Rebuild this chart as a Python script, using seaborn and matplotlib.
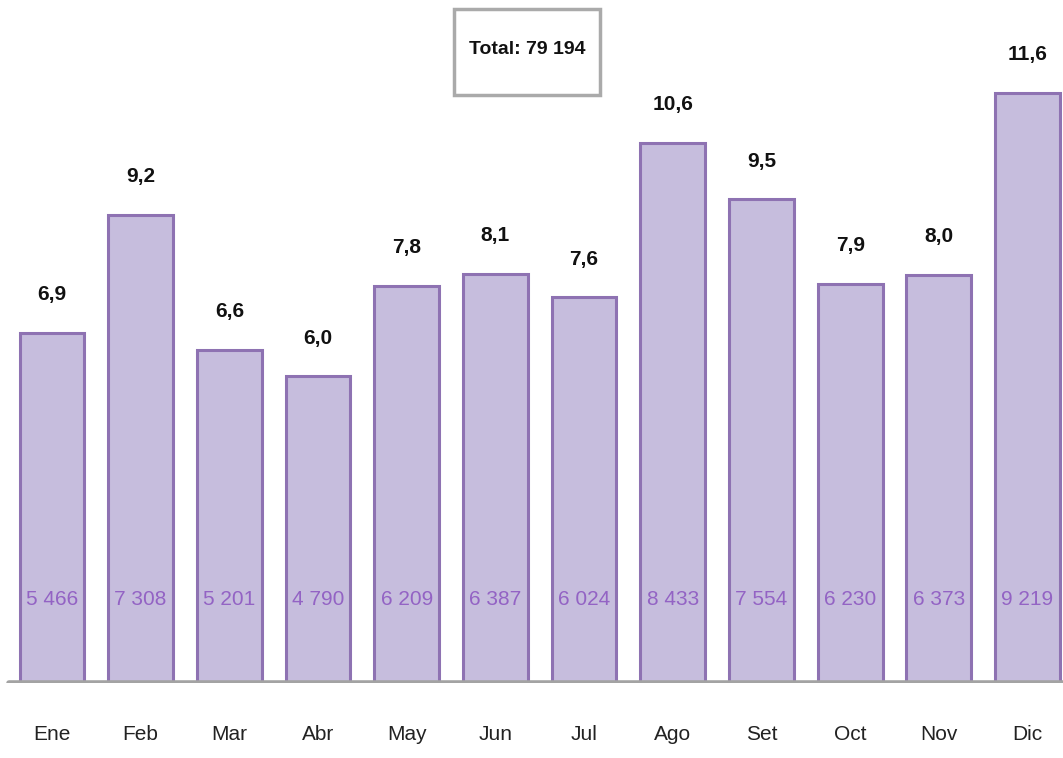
import pandas as pd
import numpy as np
import matplotlib
matplotlib.use("Agg")
import matplotlib.pyplot as plt
from matplotlib.patches import Rectangle
import seaborn as sns

# monthly counts and their share of the year (%)
months = ["Ene", "Feb", "Mar", "Abr", "May", "Jun", "Jul", "Ago", "Set", "Oct", "Nov", "Dic"]
counts = [5466, 7308, 5201, 4790, 6209, 6387, 6024, 8433, 7554, 6230, 6373, 9219]
shares = ["6,9", "9,2", "6,6", "6,0", "7,8", "8,1", "7,6", "10,6", "9,5", "7,9", "8,0", "11,6"]
count_labels = ["5 466", "7 308", "5 201", "4 790", "6 209", "6 387", "6 024", "8 433", "7 554", "6 230", "6 373", "9 219"]
total_label = "Total: 79 194"

sns.set_style("white")
plt.rcParams["font.family"] = ["Liberation Sans", "DejaVu Sans"]

df = pd.DataFrame({"mes": months, "casos": counts})

fig = plt.figure(figsize=(10.63, 7.58), dpi=100)
ax = fig.add_axes([0, 1 - 683 / 758, 1, 683 / 758])

sns.barplot(data=df, x="mes", y="casos", color="#C6BDDD", saturation=1,
            width=0.73, edgecolor="#8E72B2", linewidth=2.2, ax=ax)

ax.set_xlim(-0.586, 11.40)
ax.set_ylim(0, 10670)

for i, (c, s, cl) in enumerate(zip(counts, shares, count_labels)):
    ax.text(i, c + 450, s, ha="center", va="bottom", fontsize=15,
            fontweight="bold", color="#111111")
    ax.text(i, 1300, cl, ha="center", va="center", fontsize=15, color="#9363C4")

ax.axhline(0, xmin=0.008, xmax=1, color="#A3A3A3", lw=4, zorder=5)

ax.set_xticks(range(len(months)))
ax.set_xticklabels(months, fontsize=15, color="#222222")
ax.tick_params(axis="x", length=0, pad=30)
ax.set_yticks([])
ax.set_xlabel("")
ax.set_ylabel("")
sns.despine(ax=ax, left=True, bottom=True)

# total box
fig.patches.append(Rectangle((454 / 1063, 1 - 95 / 758), 146 / 1063, 86 / 758,
                             transform=fig.transFigure, facecolor="white",
                             edgecolor="#AAAAAA", linewidth=2.5))
fig.text(527 / 1063, 1 - 50 / 758, total_label, ha="center", va="center",
         fontsize=14, fontweight="bold", color="#111111")

fig.savefig("out.png", dpi=100)
